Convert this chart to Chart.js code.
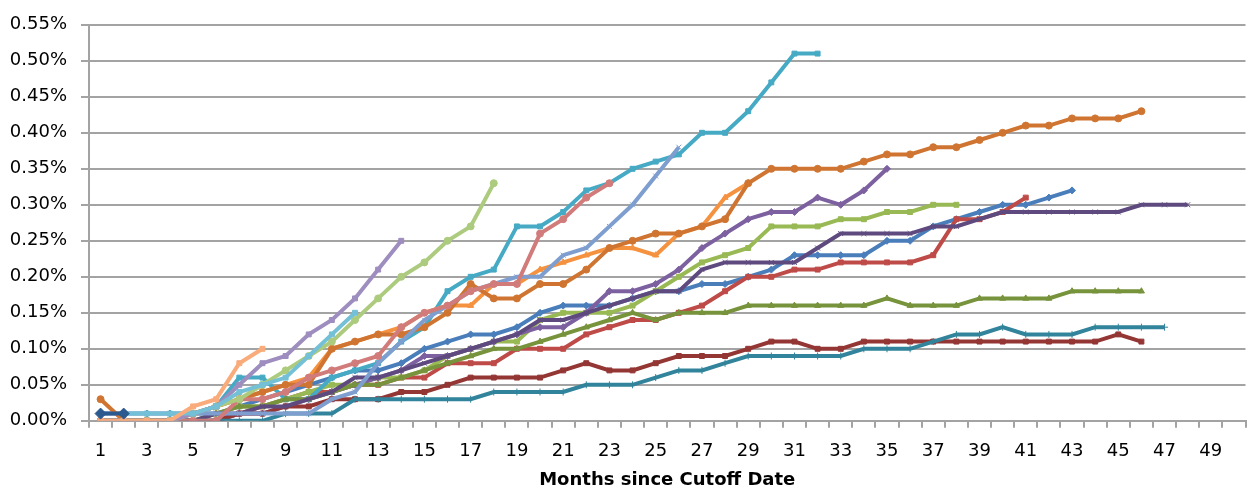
<!DOCTYPE html>
<html>
<head>
<meta charset="utf-8">
<script src="https://cdn.jsdelivr.net/npm/chart.js@4/dist/chart.umd.min.js"></script>
<style>
  html, body { margin: 0; padding: 0; background: #fff; overflow: hidden; }
  #wrap { position: relative; width: 1252px; height: 493px; }
</style>
</head>
<body>
<div id="wrap"><canvas id="chart"></canvas></div>
<script>
// months since cutoff date (category axis)
var months = [1,2,3,4,5,6,7,8,9,10,11,12,13,14,15,16,17,18,19,20,21,22,23,24,25,
              26,27,28,29,30,31,32,33,34,35,36,37,38,39,40,41,42,43,44,45,46,47,48,49,50];
var monthTickLabels = ['1','','3','','5','','7','','9','','11','','13','','15','','17','','19','','21','','23','','25',
                       '','27','','29','','31','','33','','35','','37','','39','','41','','43','','45','','47','','49',''];
var yTicks = [0,0.05,0.10,0.15,0.20,0.25,0.30,0.35,0.40,0.45,0.50,0.55];

// cumulative rates in percent, one array per cohort (Excel series order)
var blue = [0.01,0.01,0.01,0.01,0.01,0.01,0.02,0.03,0.04,0.05,0.06,0.07,0.07,0.08,0.10,0.11,0.12,0.12,0.13,0.15,
            0.16,0.16,0.16,0.17,0.18,0.18,0.19,0.19,0.20,0.21,0.23,0.23,0.23,0.23,0.25,0.25,0.27,0.28,0.29,0.30,
            0.30,0.31,0.32];
var red = [0,0,0,0,0,0,0.01,0.02,0.03,0.04,0.04,0.05,0.05,0.06,0.06,0.08,0.08,0.08,0.10,0.10,
           0.10,0.12,0.13,0.14,0.14,0.15,0.16,0.18,0.20,0.20,0.21,0.21,0.22,0.22,0.22,0.22,0.23,0.28,0.28,0.29,
           0.31];
var green = [0,0,0,0,0,0.01,0.02,0.02,0.03,0.04,0.05,0.05,0.06,0.06,0.07,0.09,0.10,0.11,0.11,0.14,
             0.15,0.15,0.15,0.16,0.18,0.20,0.22,0.23,0.24,0.27,0.27,0.27,0.28,0.28,0.29,0.29,0.30,0.30];
var purple = [0,0,0,0,0,0,0.01,0.01,0.02,0.03,0.04,0.05,0.06,0.07,0.09,0.09,0.10,0.11,0.12,0.13,
              0.13,0.15,0.18,0.18,0.19,0.21,0.24,0.26,0.28,0.29,0.29,0.31,0.30,0.32,0.35];
var aqua = [0,0,0,0,0.01,0.02,0.06,0.06,0.03,0.03,0.06,0.07,0.08,0.11,0.13,0.18,0.20,0.21,0.27,0.27,
            0.29,0.32,0.33,0.35,0.36,0.37,0.40,0.40,0.43,0.47,0.51,0.51];
var orange = [0,0,0,0,0.01,0.02,0.03,0.04,0.05,0.06,0.10,0.11,0.12,0.13,0.15,0.16,0.16,0.19,0.19,0.21,
              0.22,0.23,0.24,0.24,0.23,0.26,0.27,0.31,0.33];
var darkBlue = [0.01,0.01];
var darkRed = [0,0,0,0,0,0,0.01,0.01,0.02,0.02,0.03,0.03,0.03,0.04,0.04,0.05,0.06,0.06,0.06,0.06,
               0.07,0.08,0.07,0.07,0.08,0.09,0.09,0.09,0.10,0.11,0.11,0.10,0.10,0.11,0.11,0.11,0.11,0.11,0.11,0.11,
               0.11,0.11,0.11,0.11,0.12,0.11];
var olive = [0,0,0,0,0,0.01,0.02,0.02,0.03,0.03,0.04,0.05,0.05,0.06,0.07,0.08,0.09,0.10,0.10,0.11,
             0.12,0.13,0.14,0.15,0.14,0.15,0.15,0.15,0.16,0.16,0.16,0.16,0.16,0.16,0.17,0.16,0.16,0.16,0.17,0.17,
             0.17,0.17,0.18,0.18,0.18,0.18];
var darkPurple = [0,0,0,0,0,0.01,0.01,0.02,0.02,0.03,0.04,0.06,0.06,0.07,0.08,0.09,0.10,0.11,0.12,0.14,
                  0.14,0.15,0.16,0.17,0.18,0.18,0.21,0.22,0.22,0.22,0.22,0.24,0.26,0.26,0.26,0.26,0.27,0.27,0.28,0.29,
                  0.29,0.29,0.29,0.29,0.29,0.30,0.30,0.30];
var darkTeal = [0,0,0,0,0,0,0,0,0.01,0.01,0.01,0.03,0.03,0.03,0.03,0.03,0.03,0.04,0.04,0.04,
                0.04,0.05,0.05,0.05,0.06,0.07,0.07,0.08,0.09,0.09,0.09,0.09,0.09,0.10,0.10,0.10,0.11,0.12,0.12,0.13,
                0.12,0.12,0.12,0.13,0.13,0.13,0.13];
var darkOrange = [0.03,0,0,0,0.01,0.02,0.03,0.04,0.05,0.05,0.10,0.11,0.12,0.12,0.13,0.15,0.19,0.17,0.17,0.19,
                  0.19,0.21,0.24,0.25,0.26,0.26,0.27,0.28,0.33,0.35,0.35,0.35,0.35,0.36,0.37,0.37,0.38,0.38,0.39,0.40,
                  0.41,0.41,0.42,0.42,0.42,0.43];
var lightBlue = [0,0,0,0,0.01,0.01,0.01,0.01,0.01,0.01,0.03,0.04,0.08,0.11,0.14,0.16,0.18,0.19,0.20,0.20,
                 0.23,0.24,0.27,0.30,0.34,0.38];
var pink = [0,0,0,0,0,0,0.03,0.03,0.04,0.06,0.07,0.08,0.09,0.13,0.15,0.16,0.18,0.19,0.19,0.26,
            0.28,0.31,0.33];
var lightGreen = [0,0,0,0,0.01,0.02,0.03,0.05,0.07,0.09,0.11,0.14,0.17,0.20,0.22,0.25,0.27,0.33];
var lightPurple = [0,0,0,0,0.01,0.02,0.05,0.08,0.09,0.12,0.14,0.17,0.21,0.25];
var lightAqua = [null,0.01,0.01,0.01,0.01,0.02,0.04,0.05,0.06,0.09,0.12,0.15];
var lightOrange = [0,0,0,0,0.02,0.03,0.08,0.10];

var seriesList = [
    { data: blue,        color: '#4A7EBB', marker: 'rectRot' },
    { data: red,         color: '#BE4B48', marker: 'rect' },
    { data: green,       color: '#98B954', marker: 'rect' },
    { data: purple,      color: '#7D60A0', marker: 'rectRot' },
    { data: aqua,        color: '#46AAC5', marker: 'rect' },
    { data: orange,      color: '#F59240', marker: 'triangle' },
    { data: darkBlue,    color: '#2C5A8F', marker: 'rectRot', size: 5.5, top: true },
    { data: darkRed,     color: '#933634', marker: 'rect' },
    { data: olive,       color: '#77933C', marker: 'triangle' },
    { data: darkPurple,  color: '#5E4A7E', marker: 'crossRot' },
    { data: darkTeal,    color: '#31849B', marker: 'cross' },
    { data: darkOrange,  color: '#CF7531', marker: 'circle' },
    { data: lightBlue,   color: '#7F9ED0', marker: 'crossRot' },
    { data: pink,        color: '#D17C7A', marker: 'circle' },
    { data: lightGreen,  color: '#ADCB7E', marker: 'circle' },
    { data: lightPurple, color: '#9E8DBF', marker: 'rect' },
    { data: lightAqua,   color: '#74C0D6', marker: 'rect' },
    { data: lightOrange, color: '#F9AB7B', marker: 'rect' }
];

var gridGrey = '#A3A3A3';

// chart.js paints dataset 0 last, excel paints the last series on top
var datasets = seriesList.map(function(s) {
    return {
        data: s.data,
        order: s.top ? -1 : 0,
        borderColor: s.color,
        backgroundColor: s.color,
        borderWidth: 4,
        pointStyle: s.marker,
        pointRadius: s.size || 3.5,
        pointBorderWidth: 1,
        pointHoverRadius: s.size || 3.5,
        tension: 0,
        fill: false
    };
}).reverse();

new Chart(document.getElementById('chart'), {
    type: 'line',
    data: { labels: months, datasets: datasets },
    options: {
        responsive: true,
        maintainAspectRatio: false,
        animation: false,
        events: [],
        layout: { padding: { top: 21, right: 0, bottom: 0, left: 0 } },
        plugins: { legend: { display: false }, tooltip: { enabled: false } },
        scales: {
            x: {
                type: 'category',
                offset: true,
                grid: { display: true, drawOnChartArea: false, offset: true, tickLength: 7, color: gridGrey, lineWidth: 2 },
                border: { display: true, color: gridGrey, width: 2 },
                ticks: {
                    autoSkip: false, maxRotation: 0, padding: 13,
                    color: '#000', font: { family: 'DejaVu Sans', size: 18, lineHeight: 1.2 },
                    callback: function(v, i) { return monthTickLabels[i]; }
                },
                title: {
                    display: true, text: 'Months since Cutoff Date', color: '#000',
                    font: { family: 'DejaVu Sans', size: 18, weight: 'bold', lineHeight: 1.2 },
                    padding: { top: -6, bottom: 2 }
                }
            },
            y: {
                min: 0, max: 0.55,
                afterBuildTicks: function(scale) {
                    scale.ticks = yTicks.map(function(v) { return { value: v }; });
                },
                grid: { color: gridGrey, lineWidth: 2, tickLength: 8 },
                border: { display: true, color: gridGrey, width: 2 },
                ticks: {
                    padding: 14, color: '#000',
                    font: { family: 'DejaVu Sans', size: 18 },
                    callback: function(v) { return v.toFixed(2) + '%'; }
                },
                afterFit: function(scale) { scale.width = 89; }
            }
        }
    }
});
</script>
</body>
</html>
